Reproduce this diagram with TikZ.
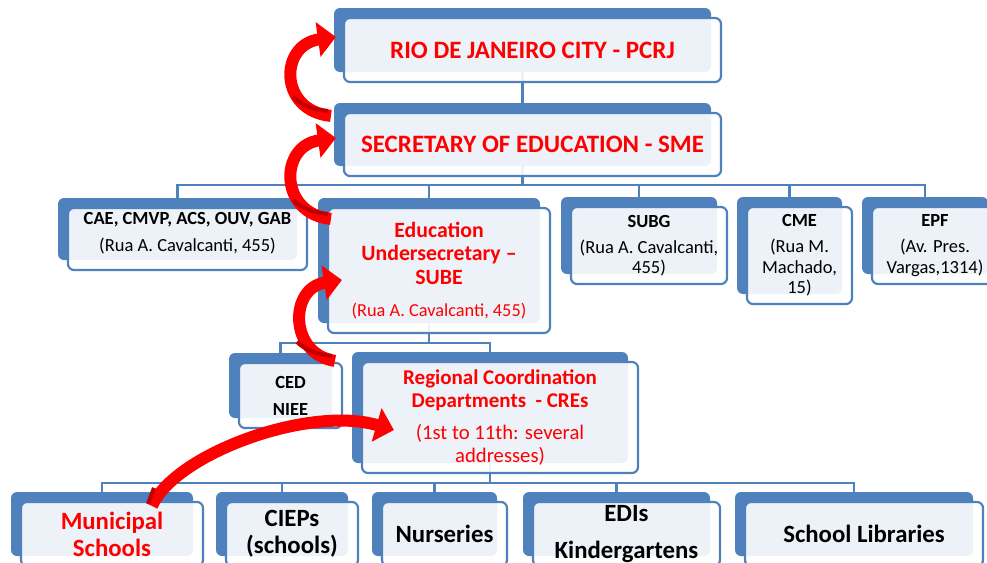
\documentclass[tikz,border=0pt]{standalone}
\usepackage{fontspec}
\setmainfont{Carlito}
\usetikzlibrary{arrows.meta,shadows}
\pgfdeclarelayer{bg}
\pgfsetlayers{bg,main}
\definecolor{orgblue}{HTML}{4F81BD}
\definecolor{orgred}{HTML}{FF0000}
\definecolor{orgdark}{HTML}{C00000}

\begin{document}
\begin{tikzpicture}[x = 1pt, y = -1pt,
    unit/.style = {draw = orgblue, line width = 2.2pt, rounded corners = 6pt,
      fill = white, fill opacity = .9, text opacity = 1, inner sep = 0pt,
      align = center, general shadow = {shadow xshift = -10pt,
        shadow yshift = 10pt, fill = orgblue, fill opacity = 1, draw = none}},
    top/.style = {unit, text = orgred, font = \bfseries\fontsize{25}{28}\selectfont},
    mid/.style = {unit, font = \fontsize{18.5}{20.5}\selectfont},
    low/.style = {unit, font = \bfseries\fontsize{24.8}{27}\selectfont},
    link/.style = {draw = orgblue, line width = 2.6pt},
    climb/.style = {draw = orgred, line width = 12pt,
      -{Triangle[length = 18pt, width = 34pt]}},
    fold/.style = {draw = orgdark, line width = 4pt}]
  \useasboundingbox (0,0) rectangle (987,562);
  \clip (0,0) rectangle (987,562);
  \node[top, minimum width = 377pt, minimum height = 64pt] (pcrj) at (532.5,50)
    {RIO DE JANEIRO CITY - PCRJ};
  \node[top, minimum width = 377pt, minimum height = 63pt] (sme) at (532.5,144.5)
    {SECRETARY OF EDUCATION - SME};
  \node[mid, minimum width = 239pt, minimum height = 62pt] (cae) at (187.5,239)
    {\textbf{CAE, CMVP, ACS, OUV, GAB}\\[6.5pt](Rua A. Cavalcanti, 455)\\[-6.5pt]\mbox{}};
  \node[unit, minimum width = 222pt, minimum height = 125pt, text = orgred,
    font = \bfseries\fontsize{21.8}{23.5}\selectfont] (sube) at (439,270.5)
    {Education\\Undersecretary --\\SUBE\\[9pt]{\mdseries\fontsize{18.3}{20}\selectfont (Rua A. Cavalcanti, 455)}};
  \node[mid, minimum width = 156pt, minimum height = 77pt] (subg) at (649,245.5)
    {\textbf{SUBG}\\[5.5pt](Rua A. Cavalcanti,\\455)};
  \node[mid, minimum width = 105pt, minimum height = 97pt] (cme) at (799.5,255.5)
    {\textbf{CME}\\[5.5pt](Rua M.\\Machado,\\15)};
  \node[mid, minimum width = 126pt, minimum height = 77pt] (epf) at (935,245.5)
    {\textbf{EPF}\\[5.5pt](Av. Pres.\\Vargas,1314)};
  \node[mid, minimum width = 103pt, minimum height = 65pt] (ced) at (290.5,395.5)
    {\textbf{CED}\\[6.5pt]\textbf{NIEE}};
  \node[unit, minimum width = 276pt, minimum height = 111pt, text = orgred,
    font = \bfseries\fontsize{21}{23}\selectfont] (cre) at (500,417.5)
    {Regional Coordination\\Departments~ - CREs\\[9pt]{\mdseries\fontsize{20.7}{24}\selectfont (1st to 11th: several}\\{\mdseries\fontsize{20.7}{24}\selectfont addresses)}};
  \node[low, minimum width = 182pt, minimum height = 64pt, text = orgred] (mun) at (112,534)
    {Municipal\\Schools};
  \node[low, minimum width = 132pt, minimum height = 64pt] (ciep) at (292,534)
    {CIEPs\\(schools)};
  \node[low, minimum width = 125pt, minimum height = 64pt] (nur) at (444.5,534)
    {Nurseries};
  \node[low, minimum width = 187pt, minimum height = 64pt] (edi) at (626.5,534)
    {EDIs\\[10pt]Kindergartens};
  \node[low, minimum width = 238pt, minimum height = 64pt] (lib) at (864,534)
    {School Libraries};
  \coordinate (bus1) at (522.5,185);
  \coordinate (bus2) at (429,343);
  \coordinate (bus3) at (490,483);
  \begin{pgfonlayer}{bg}
    \draw[link] ([xshift = -10pt]pcrj.center) -- ([xshift = -10pt]sme.center);
    \foreach \n in {cae, sube, subg, cme, epf}
      \draw[link] ([xshift = -10pt]sme.center) -- (bus1) -| ([xshift = -10pt]\n.center);
    \foreach \n in {ced, cre}
      \draw[link] ([xshift = -10pt]sube.center) -- (bus2) -| ([xshift = -10pt]\n.center);
    \foreach \n in {mun, ciep, nur, edi, lib}
      \draw[link] ([xshift = -10pt]cre.center) -- (bus3) -| ([xshift = -10pt]\n.center);
  \end{pgfonlayer}
  \draw[climb] ([xshift = -12pt, yshift = -4pt]sme.north west)
    .. controls +(-52,-5) and +(-57,8) .. ([xshift = -7pt, yshift = 13pt]pcrj.west);
  \draw[fold] ([xshift = -15pt, yshift = 1pt]sme.north west)
    .. controls +(-14,-1) and +(8,8) .. +(-35,-14);
  \draw[climb] ([xshift = 4pt, yshift = -12pt]sube.north west)
    .. controls +(-52,-5) and +(-57,8) .. ([xshift = -7pt, yshift = 6.5pt]sme.west);
  \draw[fold] ([xshift = 1pt, yshift = -7pt]sube.north west)
    .. controls +(-14,-1) and +(8,8) .. +(-35,-14);
  \draw[climb] ([xshift = -26pt]cre.north west)
    .. controls +(-46,-7) and +(-53,8) .. ([xshift = 15pt, yshift = -9.5pt]sube.west);
  \draw[fold] ([xshift = -29pt, yshift = 5pt]cre.north west)
    .. controls +(-14,-1) and +(8,8) .. +(-35,-14);
  \draw[climb] ([xshift = 40pt, yshift = -5pt]mun.north)
    .. controls +(23,-52) and +(-85,-25) .. ([xshift = 33pt, yshift = -12.5pt]cre.west);
  \draw[fold] ([xshift = 36pt, yshift = -3pt]mun.north) -- +(6,-16);
\end{tikzpicture}
\end{document}
